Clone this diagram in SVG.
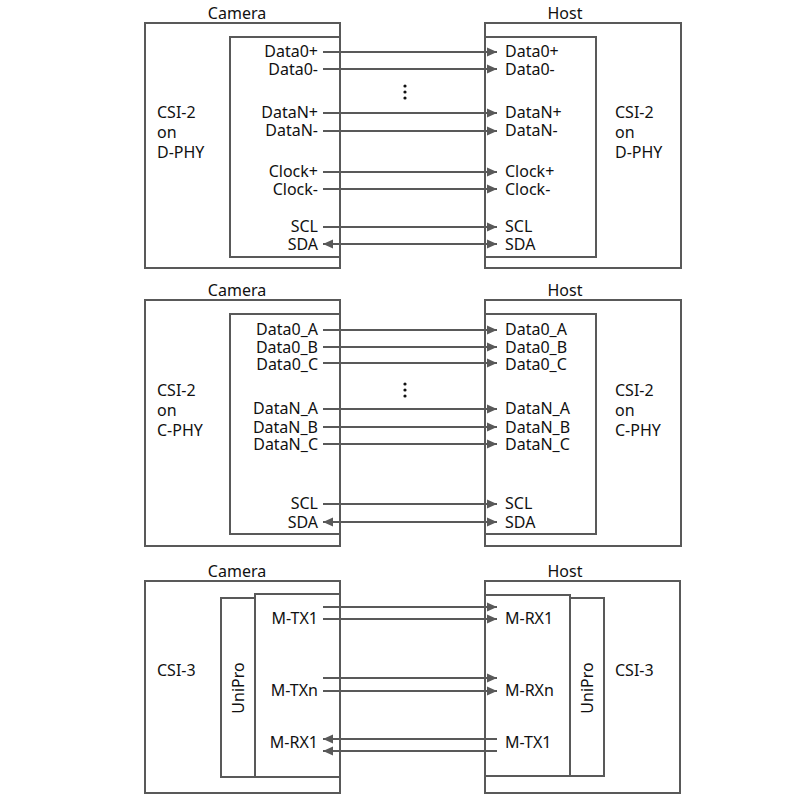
<svg xmlns="http://www.w3.org/2000/svg" width="800" height="807" viewBox="0 0 800 807">
<defs>
<marker id="arr" markerUnits="userSpaceOnUse" markerWidth="11" markerHeight="10" refX="10" refY="5" orient="auto-start-reverse" viewBox="0 0 11 10">
<path d="M0,0.5 L10,5 L0,9.5 z" fill="#595959"/>
</marker>
<style>
.box{fill:none;stroke:#595959;stroke-width:2}
.ln{fill:none;stroke:#595959;stroke-width:2}
.a{marker-end:url(#arr)}
.b{marker-start:url(#arr);marker-end:url(#arr)}
.s{marker-start:url(#arr)}
text{font-family:"Noto Sans","Open Sans","DejaVu Sans",sans-serif;font-size:16px;fill:#111}
.r{text-anchor:end}
.m{text-anchor:middle}
.dot{fill:#111}
</style>
</defs>
<rect width="800" height="807" fill="#fff"/>

<!-- Panel 1 -->
<g id="camera1">
<rect class="box" x="145" y="23" width="195" height="245"/>
<rect class="box" x="230" y="37" width="110" height="220"/>
<text class="m" x="237" y="19">Camera</text>
<text x="157" y="118">CSI-2</text>
<text x="157" y="138">on</text>
<text x="157" y="158">D-PHY</text>
<text class="r" x="318" y="57">Data0+</text>
<text class="r" x="318" y="75">Data0-</text>
<text class="r" x="318" y="118">DataN+</text>
<text class="r" x="318" y="136">DataN-</text>
<text class="r" x="318" y="177">Clock+</text>
<text class="r" x="318" y="195">Clock-</text>
<text class="r" x="318" y="232">SCL</text>
<text class="r" x="318" y="250">SDA</text>
</g>
<g id="host1">
<rect class="box" x="485" y="23" width="196" height="245"/>
<rect class="box" x="485" y="37" width="111" height="220"/>
<text class="m" x="565" y="19">Host</text>
<text x="615" y="118">CSI-2</text>
<text x="615" y="138">on</text>
<text x="615" y="158">D-PHY</text>
<text x="505" y="57">Data0+</text>
<text x="505" y="75">Data0-</text>
<text x="505" y="118">DataN+</text>
<text x="505" y="136">DataN-</text>
<text x="505" y="177">Clock+</text>
<text x="505" y="195">Clock-</text>
<text x="505" y="232">SCL</text>
<text x="505" y="250">SDA</text>
</g>

<!-- Panel 2 -->
<g id="camera2">
<rect class="box" x="145" y="300" width="195" height="246"/>
<rect class="box" x="230" y="314" width="110" height="220"/>
<text class="m" x="237" y="296">Camera</text>
<text x="157" y="396">CSI-2</text>
<text x="157" y="416">on</text>
<text x="157" y="436">C-PHY</text>
<text class="r" x="318" y="335">Data0_A</text>
<text class="r" x="318" y="353">Data0_B</text>
<text class="r" x="318" y="370">Data0_C</text>
<text class="r" x="318" y="414">DataN_A</text>
<text class="r" x="318" y="433">DataN_B</text>
<text class="r" x="318" y="450">DataN_C</text>
<text class="r" x="318" y="509">SCL</text>
<text class="r" x="318" y="528">SDA</text>
</g>
<g id="host2">
<rect class="box" x="485" y="300" width="196" height="246"/>
<rect class="box" x="485" y="314" width="111" height="220"/>
<text class="m" x="565" y="296">Host</text>
<text x="615" y="396">CSI-2</text>
<text x="615" y="416">on</text>
<text x="615" y="436">C-PHY</text>
<text x="505" y="335">Data0_A</text>
<text x="505" y="353">Data0_B</text>
<text x="505" y="370">Data0_C</text>
<text x="505" y="414">DataN_A</text>
<text x="505" y="433">DataN_B</text>
<text x="505" y="450">DataN_C</text>
<text x="505" y="509">SCL</text>
<text x="505" y="528">SDA</text>
</g>

<!-- Panel 3 -->
<g id="camera3">
<rect class="box" x="145" y="581" width="195" height="212"/>
<rect class="box" x="221" y="598" width="34" height="179"/>
<rect class="box" x="255" y="594" width="85" height="183"/>
<text class="m" x="237" y="577">Camera</text>
<text x="157" y="676">CSI-3</text>
<text class="m" transform="translate(244,688) rotate(-90)">UniPro</text>
<text class="r" x="318" y="624">M-TX1</text>
<text class="r" x="318" y="696">M-TXn</text>
<text class="r" x="318" y="748">M-RX1</text>
</g>
<g id="host3">
<rect class="box" x="485" y="581" width="195" height="212"/>
<rect class="box" x="570" y="598" width="34" height="178"/>
<rect class="box" x="485" y="595" width="85" height="181"/>
<text class="m" x="565" y="577">Host</text>
<text x="615" y="676">CSI-3</text>
<text class="m" transform="translate(593,688) rotate(-90)">UniPro</text>
<text x="505" y="624">M-RX1</text>
<text x="505" y="696">M-RXn</text>
<text x="505" y="748">M-TX1</text>
</g>

<g id="connectors">
<line class="ln a" x1="323" y1="52" x2="497" y2="52"/>
<line class="ln a" x1="323" y1="69" x2="497" y2="69"/>
<line class="ln a" x1="323" y1="113" x2="497" y2="113"/>
<line class="ln a" x1="323" y1="131" x2="497" y2="131"/>
<line class="ln a" x1="323" y1="172" x2="497" y2="172"/>
<line class="ln a" x1="323" y1="189" x2="497" y2="189"/>
<line class="ln a" x1="323" y1="227" x2="497" y2="227"/>
<line class="ln b" x1="323" y1="244" x2="497" y2="244"/>

<line class="ln a" x1="323" y1="330" x2="497" y2="330"/>
<line class="ln a" x1="323" y1="347" x2="497" y2="347"/>
<line class="ln a" x1="323" y1="363" x2="497" y2="363"/>
<line class="ln a" x1="323" y1="409" x2="497" y2="409"/>
<line class="ln a" x1="323" y1="427" x2="497" y2="427"/>
<line class="ln a" x1="323" y1="444" x2="497" y2="444"/>
<line class="ln a" x1="323" y1="504" x2="497" y2="504"/>
<line class="ln b" x1="323" y1="522" x2="497" y2="522"/>

<line class="ln a" x1="323" y1="607" x2="497" y2="607"/>
<line class="ln a" x1="323" y1="619" x2="497" y2="619"/>
<line class="ln a" x1="323" y1="678" x2="497" y2="678"/>
<line class="ln a" x1="323" y1="691" x2="497" y2="691"/>
<line class="ln s" x1="323" y1="739" x2="497" y2="739"/>
<line class="ln s" x1="323" y1="751" x2="497" y2="751"/>
</g>

<g id="ellipsis1">
<circle class="dot" cx="405" cy="86" r="1.6"/>
<circle class="dot" cx="405" cy="92" r="1.6"/>
<circle class="dot" cx="405" cy="98" r="1.6"/>
</g>
<g id="ellipsis2">
<circle class="dot" cx="405" cy="384" r="1.6"/>
<circle class="dot" cx="405" cy="390" r="1.6"/>
<circle class="dot" cx="405" cy="396" r="1.6"/>
</g>
</svg>
